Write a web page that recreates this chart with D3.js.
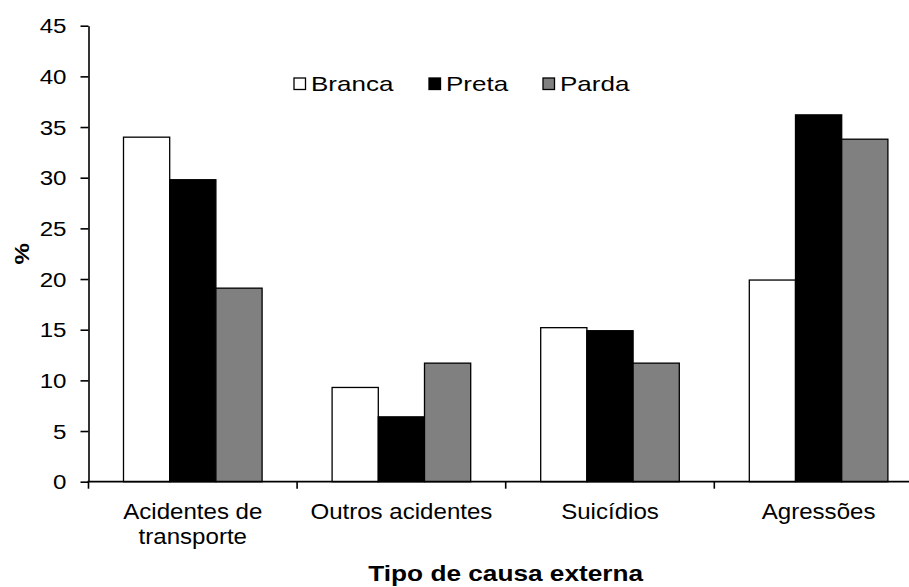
<!DOCTYPE html>
<html>
<head>
<meta charset="utf-8">
<script src="https://cdn.jsdelivr.net/npm/d3@7"></script>
<style>
  html, body { margin: 0; padding: 0; background: #fff; }
  svg { display: block; }
  text { font-family: "Liberation Sans", Arial, sans-serif; fill: #000; }
</style>
</head>
<body>
<svg id="chart" width="909" height="587"></svg>
<script>
const categories = ["Acidentes de transporte", "Outros acidentes", "Suicídios", "Agressões"];
const categoryLines = [["Acidentes de", "transporte"], ["Outros acidentes"], ["Suicídios"], ["Agressões"]];
const seriesNames = ["Branca", "Preta", "Parda"];
const branca = [34.0, 9.3, 15.2, 19.9];
const preta = [29.8, 6.4, 14.9, 36.2];
const parda = [19.1, 11.7, 11.7, 33.8];
const yTicks = [0, 5, 10, 15, 20, 25, 30, 35, 40, 45];
const seriesColors = ["#ffffff", "#000000", "#808080"];
const xTitle = "Tipo de causa externa";
const yTitle = "%";

const values = [branca, preta, parda];

const svg = d3.select("#chart");
const mLeft = 88.5, mTop = 25.7, mBottom = 481.7, band = 208.6;
const x = d3.scaleBand().domain(categories).range([mLeft, mLeft + band * categories.length]).paddingInner(0).paddingOuter(0);
const groupW = 138.6;
const xs = d3.scaleBand().domain(seriesNames).range([(band - groupW) / 2, (band + groupW) / 2]).padding(0);
const y = d3.scaleLinear().domain([0, 45]).range([mBottom, mTop]);

// bars
const g = svg.append("g");
categories.forEach((c, i) => {
  seriesNames.forEach((s, j) => {
    const v = values[j][i];
    g.append("rect")
      .attr("x", x(c) + xs(s))
      .attr("y", y(v))
      .attr("width", xs.bandwidth())
      .attr("height", y(0) - y(v))
      .attr("fill", seriesColors[j])
      .attr("stroke", "#000")
      .attr("stroke-width", 1.3);
  });
});

// y axis
const yAxis = svg.append("g").attr("transform", `translate(${mLeft},0)`)
  .call(d3.axisLeft(y).tickValues(yTicks).tickSize(8).tickSizeOuter(0).tickFormat(""));
yAxis.selectAll("path, line").attr("stroke", "#000").attr("stroke-width", 1.6);
yTicks.forEach(t => {
  svg.append("text")
    .attr("transform", `translate(${mLeft - 22},${y(t) + 7.5}) scale(1.15,1)`)
    .attr("text-anchor", "end")
    .attr("font-size", 21)
    .text(t);
});

// x axis
svg.append("line")
  .attr("x1", mLeft - 1).attr("x2", 909)
  .attr("y1", mBottom).attr("y2", mBottom)
  .attr("stroke", "#000").attr("stroke-width", 1.8);
categories.forEach(c => {
  svg.append("line")
    .attr("x1", x(c)).attr("x2", x(c))
    .attr("y1", mBottom).attr("y2", mBottom + 7)
    .attr("stroke", "#000").attr("stroke-width", 1.6);
});
categories.forEach((c, i) => {
  const cx = x(c) + x.bandwidth() / 2;
  categoryLines[i].forEach((ln, k) => {
    svg.append("text")
      .attr("transform", `translate(${cx},${519 + k * 25}) scale(1.07,1)`)
      .attr("text-anchor", "middle")
      .attr("font-size", 22.5)
      .text(ln);
  });
});

// axis titles
svg.append("text")
  .attr("transform", `translate(${mLeft + band * 2},581) scale(1.22,1)`)
  .attr("text-anchor", "middle")
  .attr("font-size", 21.5)
  .attr("font-weight", "bold")
  .text(xTitle);
svg.append("text")
  .attr("transform", `translate(29,${(mTop + mBottom) / 2}) rotate(-90) scale(1.15,1)`)
  .attr("text-anchor", "middle")
  .attr("font-size", 21)
  .attr("font-weight", "bold")
  .text(yTitle);

// legend
const legendX = [294, 429, 543];
seriesNames.forEach((s, j) => {
  svg.append("rect")
    .attr("x", legendX[j]).attr("y", 78)
    .attr("width", 11.5).attr("height", 11.5)
    .attr("fill", seriesColors[j])
    .attr("stroke", "#000").attr("stroke-width", 1.3);
  svg.append("text")
    .attr("transform", `translate(${legendX[j] + 17},91) scale(1.3,1)`)
    .attr("font-size", 20)
    .text(s);
});
</script>
</body>
</html>
